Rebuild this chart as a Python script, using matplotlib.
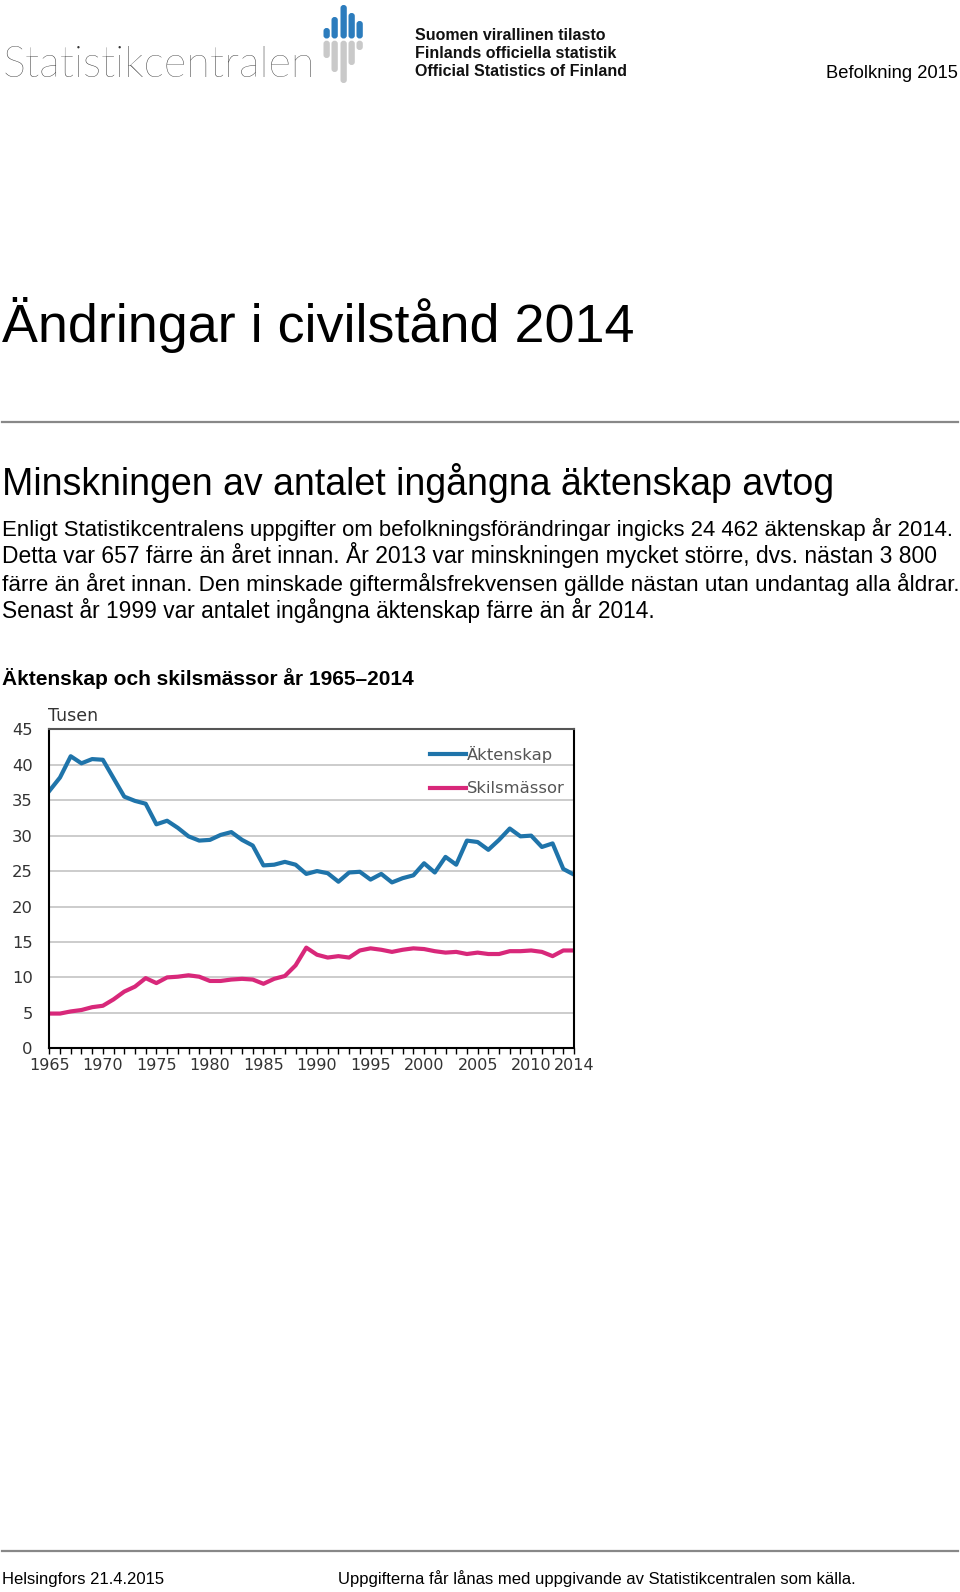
import matplotlib
matplotlib.use("Agg")
import matplotlib.pyplot as plt
from matplotlib.patches import FancyBboxPatch
from matplotlib.ticker import MultipleLocator

years = list(range(1965, 2015))
marriages = [36.3, 38.2, 41.2, 40.2, 40.8, 40.7, 38.1, 35.5, 34.9, 34.5,
             31.6, 32.1, 31.1, 29.9, 29.3, 29.4, 30.1, 30.5, 29.4, 28.6,
             25.8, 25.9, 26.3, 25.9, 24.6, 25.0, 24.7, 23.5, 24.8, 24.9,
             23.8, 24.6, 23.4, 24.0, 24.4, 26.1, 24.8, 27.0, 25.9, 29.3,
             29.1, 28.0, 29.4, 31.0, 29.9, 30.0, 28.4, 28.9, 25.3, 24.5]
divorces = [4.9, 4.9, 5.2, 5.4, 5.8, 6.0, 6.9, 8.0, 8.7, 9.9,
            9.2, 10.0, 10.1, 10.3, 10.1, 9.5, 9.5, 9.7, 9.8, 9.7,
            9.1, 9.8, 10.2, 11.7, 14.2, 13.2, 12.8, 13.0, 12.8, 13.8,
            14.1, 13.9, 13.6, 13.9, 14.1, 14.0, 13.7, 13.5, 13.6, 13.3,
            13.5, 13.3, 13.3, 13.7, 13.7, 13.8, 13.6, 13.0, 13.8, 13.8]
x_ticks = [1965, 1970, 1975, 1980, 1985, 1990, 1995, 2000, 2005, 2010, 2014]

body = ["Enligt Statistikcentralens uppgifter om befolkningsförändringar ingicks 24 462 äktenskap år 2014.",
        "Detta var 657 färre än året innan. År 2013 var minskningen mycket större, dvs. nästan 3 800",
        "färre än året innan. Den minskade giftermålsfrekvensen gällde nästan utan undantag alla åldrar.",
        "Senast år 1999 var antalet ingångna äktenskap färre än år 2014."]
body_widths = [955, 934, 955, 655]

blue = "#1f74aa"
pink = "#d8287a"
page_font = ["Liberation Sans", "DejaVu Sans"]

W, H = 960, 1592
fig = plt.figure(figsize=(W / 100, H / 100), dpi=100)

# page layer in pixel coordinates
page = fig.add_axes([0, 0, 1, 1])
page.set_xlim(0, W)
page.set_ylim(H, 0)
page.axis("off")
renderer = fig.canvas.get_renderer()


def fit(t, width):
    # scale the font so the text gets the given pixel width
    w = t.get_window_extent(renderer).width
    t.set_fontsize(t.get_fontsize() * width / w)


# logo
logo = page.text(3, 77, "Statistikcentralen", fontsize=30, color="#333333",
                 family=["Lato", "DejaVu Sans"], fontweight="light")
fit(logo, 313)
bar_x = [323.5, 331.5, 340.5, 348.5, 356.5]
blue_top = [28, 17, 5, 13, 21]
gray_bottom = [58, 72, 83, 65, 50]
for bx, bt, gb in zip(bar_x, blue_top, gray_bottom):
    page.add_patch(FancyBboxPatch((bx, bt), 6.3, 38.5 - bt,
                                  boxstyle="round,pad=0,rounding_size=3",
                                  fc="#2c7cbd", ec="none"))
    page.add_patch(FancyBboxPatch((bx, 40.7), 6.3, gb - 40.7,
                                  boxstyle="round,pad=0,rounding_size=3",
                                  fc="#c9c9c9", ec="none"))
logo_lines = []
for yy, s in zip([35.5, 53, 71], ["Suomen virallinen tilasto",
                                   "Finlands officiella statistik",
                                   "Official Statistics of Finland"]):
    logo_lines.append(page.text(415, yy, s, fontsize=13, fontweight="bold", va="center",
                                family=["Liberation Sans Narrow", "Liberation Sans"],
                                color="#111111"))
fit(logo_lines[-1], 210)
for t in logo_lines[:-1]:
    t.set_fontsize(logo_lines[-1].get_fontsize())

page.text(958, 73, "Befolkning 2015", fontsize=13.2, ha="right", va="center",
          family=page_font)

page.text(2, 342, "Ändringar i civilstånd 2014", fontsize=38.8, family=page_font)
page.plot([2, 958], [422, 422], color="#888888", lw=1.6)
page.text(2, 495, "Minskningen av antalet ingångna äktenskap avtog", fontsize=27,
          family=page_font)
for i, (line, wd) in enumerate(zip(body, body_widths)):
    t = page.text(2, 536 + i * 27.3, line, fontsize=16, family=page_font)
    fit(t, wd)
page.text(2, 685, "Äktenskap och skilsmässor år 1965–2014", fontsize=15,
          fontweight="bold", family=page_font)

page.plot([2, 958], [1551, 1551], color="#888888", lw=1.6)
page.text(2, 1584, "Helsingfors 21.4.2015", fontsize=12.0, family=page_font)
page.text(338, 1584, "Uppgifterna får lånas med uppgivande av Statistikcentralen som källa.",
          fontsize=12.0, family=page_font)

# chart
left, right, top, bottom = 49.3, 574, 729.3, 1048.3
ax = fig.add_axes([left / W, 1 - bottom / H, (right - left) / W, (bottom - top) / H])
ax.plot(years, marriages, color=blue, lw=3, label="Äktenskap", solid_joinstyle="round")
ax.plot(years, divorces, color=pink, lw=3, label="Skilsmässor", solid_joinstyle="round")
ax.set_xlim(1965, 2014)
ax.set_ylim(0, 45)
ax.yaxis.set_major_locator(MultipleLocator(5))
ax.set_xticks(x_ticks)
ax.xaxis.set_minor_locator(MultipleLocator(1))
ax.grid(axis="y", color="#c4c4c4", lw=1.2)
ax.set_axisbelow(True)
for side in ["left", "bottom", "right"]:
    ax.spines[side].set_color("black")
    ax.spines[side].set_linewidth(1.5)
ax.spines["top"].set_color("#555555")
ax.spines["top"].set_linewidth(1.5)
ax.tick_params(axis="y", length=0, pad=12, labelsize=11.8, labelcolor="#333333")
ax.tick_params(axis="x", which="both", direction="out", length=4, width=1,
               pad=3, labelsize=11.5, labelcolor="#333333")
ax.annotate("Tusen", xy=(0, 1), xycoords="axes fraction", xytext=(-1, 3),
            textcoords="offset points", fontsize=12.5, color="#333333", va="bottom")
ax.legend(loc="upper left", bbox_to_anchor=(0.7255, 0.949), frameon=False,
          fontsize=11.8, handlelength=2.2, handletextpad=0.05, labelspacing=1.15,
          borderpad=0, borderaxespad=0, labelcolor="#555555")

fig.savefig("out.png", dpi=100)
